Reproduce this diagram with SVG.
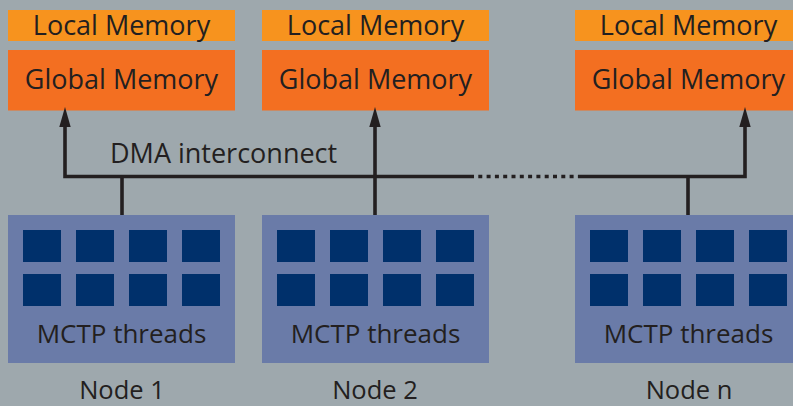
<svg xmlns="http://www.w3.org/2000/svg" width="793" height="406" viewBox="0 0 793 406">
<defs>
<style>
.bg{fill:#9ea8ad}
.local{fill:#f7931e}
.global{fill:#f36f21}
.threads{fill:#6a7ba8}
.sq{fill:#00306b}
.t{font-family:"Open Sans","Noto Sans",sans-serif;font-size:26px;fill:#231f20;text-anchor:middle}
.m{font-size:27px}
.n{font-size:25.5px}
.ln{stroke:#231f20;stroke-width:3.6;fill:none}
</style>
<marker id="ah" viewBox="0 0 20 12" refX="0" refY="6" markerWidth="20" markerHeight="12" markerUnits="userSpaceOnUse" orient="auto">
<path d="M0,0.3 L20,6 L0,11.7 Z" fill="#231f20"/>
</marker>
<g id="cores">
<rect class="sq" x="15" y="15" width="38" height="32"/>
<rect class="sq" x="68" y="15" width="38" height="32"/>
<rect class="sq" x="121" y="15" width="38" height="32"/>
<rect class="sq" x="174" y="15" width="38" height="32"/>
<rect class="sq" x="15" y="59" width="38" height="32"/>
<rect class="sq" x="68" y="59" width="38" height="32"/>
<rect class="sq" x="121" y="59" width="38" height="32"/>
<rect class="sq" x="174" y="59" width="38" height="32"/>
</g>
</defs>
<rect class="bg" x="0" y="0" width="793" height="406"/>

<g id="node1">
<rect class="local" x="8" y="10" width="227" height="31"/>
<text class="t m" x="121.5" y="35">Local Memory</text>
<rect class="global" x="8" y="50" width="227" height="60.5"/>
<text class="t m" x="121.5" y="89">Global Memory</text>
<rect class="threads" x="8" y="215" width="227" height="148"/>
<use href="#cores" x="8" y="215"/>
<text class="t" x="121.5" y="343">MCTP threads</text>
<text class="t n" x="122" y="399">Node 1</text>
</g>

<g id="node2">
<rect class="local" x="262" y="10" width="227" height="31"/>
<text class="t m" x="375.5" y="35">Local Memory</text>
<rect class="global" x="262" y="50" width="227" height="60.5"/>
<text class="t m" x="375.5" y="89">Global Memory</text>
<rect class="threads" x="262" y="215" width="227" height="148"/>
<use href="#cores" x="262" y="215"/>
<text class="t" x="375.5" y="343">MCTP threads</text>
<text class="t n" x="375" y="399">Node 2</text>
</g>

<g id="noden">
<rect class="local" x="575" y="10" width="227" height="31"/>
<text class="t m" x="688.5" y="35">Local Memory</text>
<rect class="global" x="575" y="50" width="227" height="60.5"/>
<text class="t m" x="688.5" y="89">Global Memory</text>
<rect class="threads" x="575" y="215" width="227" height="148"/>
<use href="#cores" x="575" y="215"/>
<text class="t" x="688.5" y="343">MCTP threads</text>
<text class="t n" x="689" y="399">Node n</text>
</g>

<g id="connectors">
<path class="ln" d="M122,215 V176.5"/>
<path class="ln" d="M470,176.5 H65 V127" marker-end="url(#ah)"/>
<path class="ln" d="M470,176.5 H578" stroke-dasharray="4 4.3"/>
<path class="ln" d="M578,176.5 H745 V127" marker-end="url(#ah)"/>
<path class="ln" d="M688,215 V176.5"/>
<path class="ln" d="M375,215 V127" marker-end="url(#ah)"/>
<text class="t m" x="110" y="163" style="text-anchor:start">DMA interconnect</text>
</g>
</svg>
